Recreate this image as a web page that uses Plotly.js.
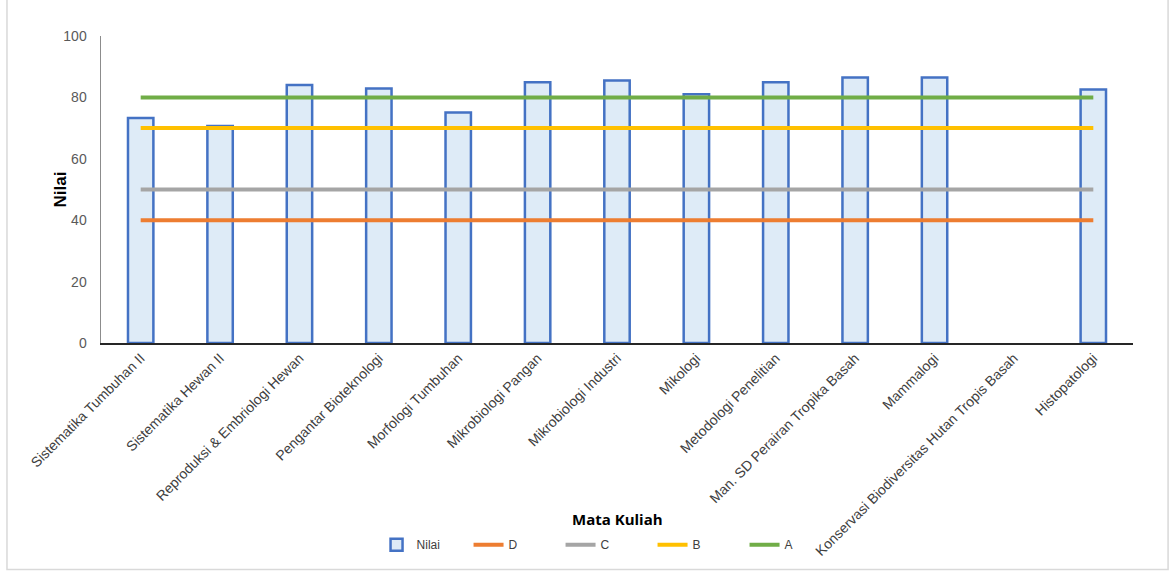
<!DOCTYPE html>
<html>
<head>
<meta charset="utf-8">
<script src="https://cdn.plot.ly/plotly-3.0.1.min.js"></script>
<style>html,body{margin:0;padding:0;background:#fff;}#chart{width:1171px;height:572px;}</style>
</head>
<body>
<div id="chart"></div>
<script>
const categories = [
  "Sistematika Tumbuhan II",
  "Sistematika Hewan II",
  "Reproduksi & Embriologi Hewan",
  "Pengantar Bioteknologi",
  "Morfologi Tumbuhan",
  "Mikrobiologi Pangan",
  "Mikrobiologi Industri",
  "Mikologi",
  "Metodologi Penelitian",
  "Man. SD Perairan Tropika Basah",
  "Mammalogi",
  "Konservasi Biodiversitas Hutan Tropis Basah",
  "Histopatologi"
];
const nilai = [73.3, 70.7, 84.0, 82.9, 75.1, 84.9, 85.5, 81.0, 84.9, 86.5, 86.5, null, 82.6];
const gradeD = [40,40,40,40,40,40,40,40,40,40,40,40,40];
const gradeC = [50,50,50,50,50,50,50,50,50,50,50,50,50];
const gradeB = [70,70,70,70,70,70,70,70,70,70,70,70,70];
const gradeA = [80,80,80,80,80,80,80,80,80,80,80,80,80];
const yTicks = [0, 20, 40, 60, 80, 100];

const font = "Liberation Sans, Arial, sans-serif";
function lineTrace(name, y, color) {
  return {type: "scatter", mode: "lines", name: name, x: categories, y: y,
    line: {color: color, width: 4}, hoverinfo: "y"};
}
const data = [
  {type: "bar", name: "Nilai", x: categories, y: nilai,
   marker: {color: "#DEEBF7", line: {color: "#4472C4", width: 2.5}}},
  lineTrace("D", gradeD, "#ED7D31"),
  lineTrace("C", gradeC, "#A5A5A5"),
  lineTrace("B", gradeB, "#FFC000"),
  lineTrace("A", gradeA, "#70AD47")
];
const layout = {
  width: 1171, height: 572,
  margin: {l: 101, r: 38, t: 36, b: 229},
  paper_bgcolor: "#fff", plot_bgcolor: "#fff",
  font: {family: font, color: "#595959", size: 13},
  bargap: 0.68,
  showlegend: true,
  xaxis: {
    type: "category", tickangle: -45, automargin: false,
    tickfont: {family: font, size: 14, color: "#404040"},
    showline: true, linecolor: "#262626", linewidth: 1.5,
    showgrid: false, ticks: "", zeroline: false
  },
  yaxis: {
    range: [0, 100], tickvals: yTicks, automargin: false,
    tickfont: {family: font, size: 14, color: "#595959"},
    showline: true, linecolor: "#8C8C8C", linewidth: 1.5,
    showgrid: false, zeroline: false, ticks: "", ticklabelstandoff: 10,
    title: {text: ""}
  },
  legend: {
    orientation: "h", x: 0.267, xanchor: "left", y: -0.657, yanchor: "middle",
    bgcolor: "rgba(0,0,0,0)",
    font: {family: font, size: 12, color: "#404040"},
    entrywidth: 47, entrywidthmode: "pixels", traceorder: "normal"
  },
  annotations: [{
    text: "<b>Mata Kuliah</b>", xref: "paper", yref: "paper", x: 0.5, y: -0.572,
    xanchor: "center", yanchor: "middle", showarrow: false,
    font: {family: "Open Sans, " + font, size: 15, color: "#000"}
  }, {
    text: "<b>Nilai</b>", xref: "paper", yref: "paper", x: -0.0397, y: 0.5,
    xanchor: "center", yanchor: "middle", showarrow: false, textangle: -90,
    font: {family: font, size: 17, color: "#000"}
  }],
  shapes: [{
    type: "rect", xref: "paper", yref: "paper",
    x0: -0.0911, x1: 1.034, y0: -0.738, y1: 1.125,
    line: {color: "#D9D9D9", width: 1.5}, fillcolor: "rgba(0,0,0,0)", layer: "below"
  }]
};
Plotly.newPlot("chart", data, layout, {displayModeBar: false, staticPlot: true});
</script>
</body>
</html>
